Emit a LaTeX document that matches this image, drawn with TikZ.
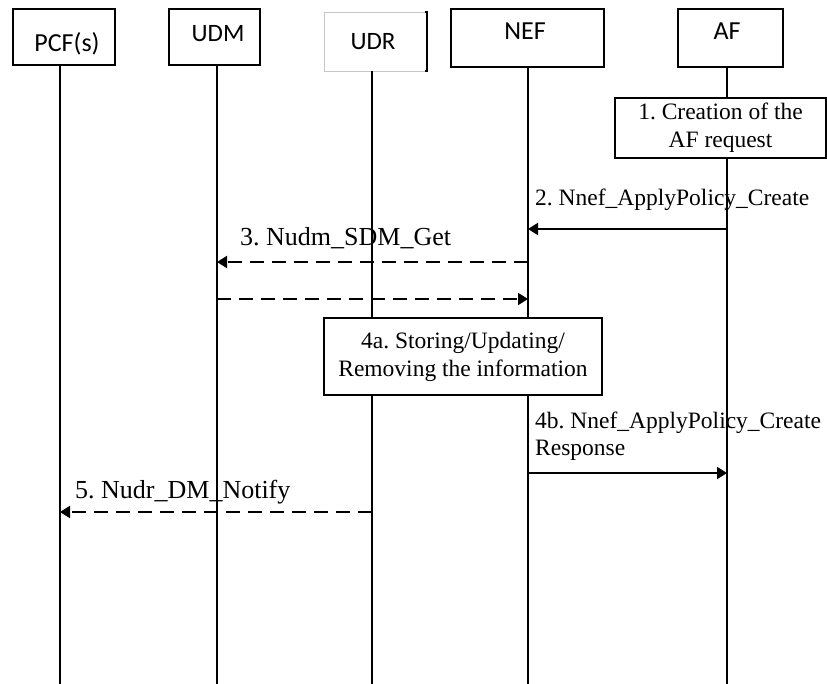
\documentclass[tikz,border=0pt]{standalone}
\usepackage{fontspec}
\setmainfont{Liberation Serif}
\newfontfamily\hdrfont{Carlito}
\usetikzlibrary{arrows.meta}
\frenchspacing
\tikzset{
  hbox/.style={draw, line width=2pt, inner sep=0pt, fill=white},
  htext/.style={font=\hdrfont\fontsize{25}{30}\selectfont, anchor=base, inner sep=0pt},
  lifeline/.style={line width=2pt},
  msg/.style={line width=2pt, -{Triangle[length=10pt,width=12pt]}},
  async/.style={msg, dash pattern=on 14pt off 8pt},
  lbl/.style={font=\frenchspacing\fontsize{23.5}{28}\selectfont, anchor=base west, inner sep=0pt},
  biglbl/.style={font=\frenchspacing\fontsize{26}{30}\selectfont, anchor=base west, inner sep=0pt},
  actbox/.style={draw, line width=2pt, fill=white, align=center, inner sep=0pt, font=\frenchspacing\fontsize{23.5}{28}\selectfont},
}
\begin{document}
\begin{tikzpicture}[x=1pt,y=-1pt]
\useasboundingbox (0,0) rectangle (827,684);
% header boxes
\node[hbox, minimum width=102pt, minimum height=56pt] (pcf) at (64,37) {};
\node[htext, font=\hdrfont\fontsize{26}{30}\selectfont] (pcft) at (67,52) {PCF(s)};
\node[hbox, minimum width=91pt, minimum height=56pt] (udm) at (214.5,37) {};
\node[htext] (udmt) at (218,42) {UDM};
\node[draw=gray!45, line width=0.6pt, fill=white, inner sep=0pt, minimum width=103pt, minimum height=59pt] (udr) at (375.5,41.5) {};
\draw[line width=2pt] ([xshift=-2.5pt]udr.north east) -- (udr.north east) -- (udr.south east) -- ([xshift=-2.5pt]udr.south east);
\node[htext] (udrt) at (373,50) {UDR};
\node[hbox, minimum width=153pt, minimum height=58pt] (nef) at (527.5,38) {};
\node[htext, font=\hdrfont\fontsize{26}{30}\selectfont] (neft) at (525,40) {NEF};
\node[hbox, minimum width=105pt, minimum height=58pt] (af) at (730.5,38) {};
\node[htext, font=\hdrfont\fontsize{26}{30}\selectfont] (aft) at (727,40) {AF};
% lifeline ends
\coordinate (pcfb) at (60,690);
\coordinate (udmb) at (217,690);
\coordinate (udrb) at (372,690);
\coordinate (nefb) at (528,690);
\coordinate (afb) at (727,690);
\draw[lifeline] (pcf.south -| pcfb) -- (pcfb);
\draw[lifeline] (udm.south -| udmb) -- (udmb);
\draw[lifeline] (udr.south -| udrb) -- (udrb);
\draw[lifeline] (nef.south -| nefb) -- (nefb);
\draw[lifeline] (af.south -| afb) -- (afb);
% action boxes
\node[actbox, minimum width=211pt, minimum height=60pt] (step1) at (720.5,128) {1. Creation of the\\AF request};
\node[actbox, minimum width=278pt, minimum height=77pt] (step4a) at (463,356.5) {4a. Storing/Updating/\\Removing the information};
% message end points
\coordinate (m2a) at (727,229);
\coordinate (m2b) at (528,229);
\coordinate (m3a) at (528,262);
\coordinate (m3b) at (217,262);
\coordinate (m3ra) at (217,299);
\coordinate (m3rb) at (528,299);
\coordinate (m4a) at (528,473);
\coordinate (m4b) at (727,473);
\coordinate (m5a) at (372,512);
\coordinate (m5b) at (60,512);
\draw[msg] (m2a) -- (m2b);
\draw[async] (m3a) -- (m3b);
\draw[async] (m3ra) -- (m3rb);
\draw[msg] (m4a) -- (m4b);
\draw[async] (m5a) -- (m5b);
% labels
\node[lbl] (l2) at (535,206) {2. Nnef\_ApplyPolicy\_Create};
\node[biglbl] (l3) at (240,246) {3. Nudm\_SDM\_Get};
\node[lbl] (l4b) at (535,428) {\parbox[t]{290pt}{\raggedright\frenchspacing 4b. Nnef\_ApplyPolicy\_Create\\Response}};
\node[biglbl] (l5) at (75,498) {5. Nudr\_DM\_Notify};
\end{tikzpicture}
\end{document}
